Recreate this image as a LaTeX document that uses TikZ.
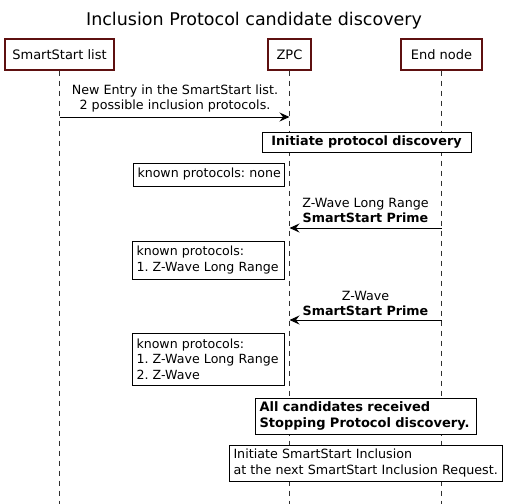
\documentclass[tikz,border=0pt]{standalone}
\usepackage{fontspec}
\setmainfont{DejaVu Sans}
\usetikzlibrary{arrows.meta}
\frenchspacing
\definecolor{pborder}{HTML}{5E1010}
\definecolor{lifecol}{HTML}{303030}
\tikzset{
  part/.style={draw=pborder, line width=1.4pt, fill=white, minimum height=31pt, inner sep=0pt, font=\fontsize{13}{15}\selectfont},
  life/.style={draw=lifecol, line width=1.7pt, dash pattern=on 5pt off 5pt},
  msg/.style={draw=black, line width=1pt, -{Stealth[length=10pt,width=9pt,inset=3.5pt]}},
  lbl/.style={font=\fontsize{12.7}{15}\selectfont, inner sep=0pt, align=center},
  notebox/.style={draw=black, line width=1pt, fill=white, align=left, anchor=west, inner xsep=4pt, inner ysep=2pt, font=\fontsize{12.6}{15.5}\selectfont},
  refbox/.style={draw=black, line width=1pt, fill=white, align=left, anchor=west, inner xsep=4pt, inner ysep=2pt, minimum height=36pt, font=\fontsize{12.7}{15.5}\selectfont}
}
\begin{document}
\begin{tikzpicture}[x=1pt,y=-1pt]
\useasboundingbox[fill=white] (0,0) rectangle (507,504);
\node[font=\fontsize{17.5}{20}\selectfont] (title) at (254,21) {Inclusion Protocol candidate discovery};
% participants
\node[part, minimum width=109pt] (ssl) at (59.5,54.5) {SmartStart list};
\node[part, minimum width=43pt] (zpc) at (289.5,54.5) {ZPC};
\node[part, minimum width=81pt] (end) at (441.5,54.5) {End node};
\coordinate (sslb) at (59.5,504);
\coordinate (zpcb) at (289.5,504);
\coordinate (endb) at (441.5,504);
\draw[life] (ssl.south) -- (sslb);
\draw[life] (zpc.south) -- (zpcb);
\draw[life] (end.south) -- (endb);
% message 1
\coordinate (m1a) at (59.5,117);
\coordinate (m1b) at (289.5,117);
\draw[msg] (m1a) -- (m1b);
\node[lbl] (l1) at (175,98.5) {New Entry in the SmartStart list.\\2 possible inclusion protocols.};
% initiate
\node[draw=black, line width=1pt, fill=white, minimum width=209pt, minimum height=20pt, inner sep=0pt, font=\fontsize{12.8}{14}\selectfont\bfseries] (init) at (366.5,142) {Initiate protocol discovery};
% note 1
\node[notebox, text width=143pt, minimum height=23pt] (n1) at (133,174.5) {\mbox{known protocols: none}};
% message 2
\coordinate (m2a) at (441.5,228);
\coordinate (m2b) at (289.5,228);
\draw[msg] (m2a) -- (m2b);
\node[lbl] (l2) at (365.5,210.5) {Z-Wave Long Range\\\textbf{SmartStart Prime}};
% note 2
\node[notebox, text width=144pt, minimum height=38pt] (n2) at (132,260) {\mbox{known protocols:}\\\mbox{1. Z-Wave Long Range}};
% message 3
\coordinate (m3a) at (441.5,320);
\coordinate (m3b) at (289.5,320);
\draw[msg] (m3a) -- (m3b);
\node[lbl] (l3) at (365.5,303.5) {Z-Wave\\\textbf{SmartStart Prime}};
% note 3
\node[notebox, text width=144pt, minimum height=52pt] (n3) at (132,359) {\mbox{known protocols:}\\\mbox{1. Z-Wave Long Range}\\\mbox{2. Z-Wave}};
% boxes
\node[refbox, text width=213pt, font=\fontsize{13}{15.5}\selectfont\bfseries] (allc) at (255,416) {\mbox{All candidates received}\\\mbox{Stopping Protocol discovery.}};
\node[refbox, text width=265pt] (incl) at (229,463) {\mbox{Initiate SmartStart Inclusion}\\\mbox{at the next SmartStart Inclusion Request.}};
\end{tikzpicture}
\end{document}
